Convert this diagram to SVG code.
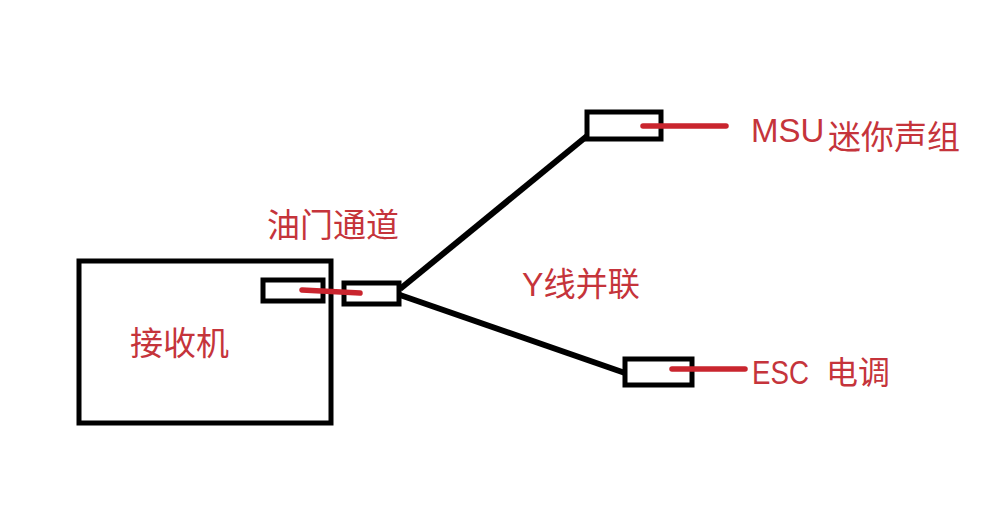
<svg xmlns="http://www.w3.org/2000/svg" width="1000" height="530" viewBox="0 0 1000 530">
<style>
.box{fill:none;stroke:#000;stroke-width:5}
.wire{fill:none;stroke:#000;stroke-width:6}
.red{fill:none;stroke:#c9252e;stroke-width:5.5;stroke-linecap:round}
text{fill:#c5343b;font-family:"Liberation Sans","Noto Sans CJK SC",sans-serif;font-size:33px}
</style>
<rect width="1000" height="530" fill="#fff"/>
<g id="connectors">
<path class="wire" d="M400 289L587 136"/>
<path class="wire" d="M400 295L625 373"/>
</g>
<g id="receiver"><rect class="box" x="79" y="261" width="252" height="162"/><text x="130" y="355">接收机</text></g>
<g id="receiver-port"><rect class="box" x="263" y="280" width="60" height="21"/></g>
<g id="y-plug"><rect class="box" x="344" y="283" width="55" height="21"/></g>
<g id="msu-plug"><rect class="box" x="587" y="112" width="74" height="27"/></g>
<g id="esc-plug"><rect class="box" x="625" y="359" width="67" height="26"/></g>
<g id="red-leads">
<path class="red" d="M302 290L360 293"/>
<path class="red" d="M643 126H726"/>
<path class="red" d="M672 369H745"/>
</g>
<g id="labels">
<text x="267" y="237">油门通道</text>
<text x="522" y="296" textLength="118" lengthAdjust="spacingAndGlyphs">Y线并联</text>
<text x="751" y="142">MSU</text>
<text x="828" y="149">迷你声组</text>
<text x="752" y="384" textLength="57" lengthAdjust="spacingAndGlyphs">ESC</text>
<text x="826" y="384" style="font-size:32px">电调</text>
</g>
</svg>
